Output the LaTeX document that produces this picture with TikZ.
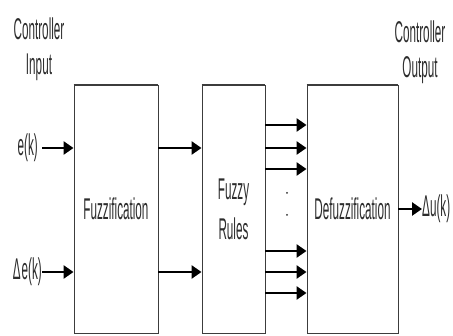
\documentclass[tikz,border=0pt]{standalone}
\usepackage{fontspec}
\setmainfont{Liberation Sans}[FakeStretch=0.39]
\usetikzlibrary{arrows.meta,positioning}
\definecolor{boxgray}{RGB}{60,60,60}
\definecolor{textgray}{RGB}{45,45,45}

\begin{document}
\begin{tikzpicture}[x=1pt,y=-1pt,font=\fontsize{30}{40}\selectfont,
  block/.style={draw=boxgray,line width=0.9pt,minimum height=248pt,inner sep=0pt,text=textgray,align=center},
  arr/.style={line width=2.5pt,-{Triangle[length=10pt,width=13pt]}},
  lbl/.style={text=textgray,inner sep=0pt,align=center,font=\fontsize{30}{35}\selectfont}]
\useasboundingbox (0,0) rectangle (453,336);
% blocks
\node[block,minimum width=84pt] (fuzz) at (116,209) {Fuzzification};
\node[block,minimum width=63pt] (rules) at (233.5,209) {Fuzzy\\Rules};
\node[block,minimum width=91pt] (defuzz) at (352.5,209) {Defuzzification};
\foreach \b in {fuzz,rules,defuzz} {\draw[boxgray,line width=2pt] (\b.north west) -- (\b.north east);}
% labels
\node[lbl] (cin) at (39,49) {Controller\\Input};
\node[lbl] (cout) at (420,52) {Controller\\Output};
\node[lbl,anchor=east] (ek) at (38,148) {e(k)};
\node[lbl,anchor=east] (dek) at (42,272) {Δ\kern1pt e(k)};
\node[lbl,anchor=west] (duk) at (422,209) {Δu(k)};
% connectors
\draw[arr] (ek.east) ++(4,0) -- (ek.east -| fuzz.west);
\draw[arr] (dek.east) -- (dek.east -| fuzz.west);
\foreach \n in {ek,dek} {\draw[arr] (fuzz.east |- \n.east) -- (rules.west |- \n.east);}
\foreach \y in {125,148,169,251,272,293} {\draw[arr] (rules.east |- 0,\y) -- (defuzz.west |- 0,\y);}
\foreach \y in {193,215} {\fill[textgray] (287,\y) circle (1pt);}
\draw[arr] (defuzz.east |- duk.west) -- (duk.west);
\end{tikzpicture}
\end{document}
